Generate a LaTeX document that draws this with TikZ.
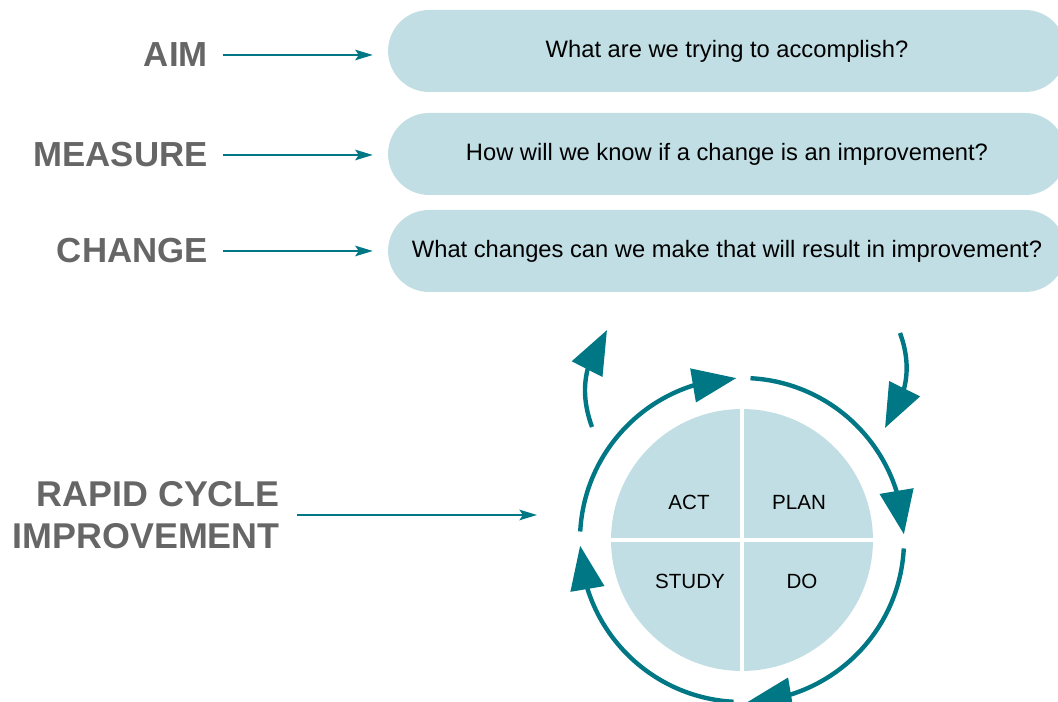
\documentclass[tikz,border=0pt]{standalone}
\usepackage{fontspec}
\setmainfont{Liberation Sans}
\usepackage{tikz}
\usetikzlibrary{arrows.meta, bending, positioning, shapes.misc, calc}
\definecolor{TealColor}{RGB}{0,119,133}
\definecolor{PaleColor}{RGB}{193,222,228}
\definecolor{LabelColor}{RGB}{102,102,102}
\tikzstyle{link} = [line width=1.1pt, TealColor, -{Stealth[length=10pt, width=6pt, inset=2pt]}]
\tikzstyle{cycarrow} = [line width=2.5pt, TealColor, -{Triangle[length=25pt, width=19pt]}]
\tikzstyle{question} = [rounded rectangle, fill=PaleColor, minimum width=13.56cm, minimum height=1.64cm, inner sep=0pt, font=\fontsize{13.5}{16}\selectfont]
\tikzstyle{heading} = [anchor=east, inner sep=0pt, text=LabelColor, font=\fontsize{19.8}{23.8}\selectfont\bfseries]
\tikzstyle{stage} = [inner sep=0pt, font=\fontsize{11.7}{14}\selectfont]

\begin{document}
\begin{tikzpicture}[x=0.02cm, y=0.02cm]
\useasboundingbox (0,0) rectangle (1058,702);

% model questions
\foreach \n/\lbl/\qtext/\yy/\ly in {aim/AIM/What are we trying to accomplish?/651/647, measure/MEASURE/How will we know if a change is an improvement?/548/547, change/CHANGE/What changes can we make that will result in improvement?/451/451} {
    \node[question] (q\n) at (727,\yy) {\qtext};
    \node[heading] (\n) at (208,\ly) {\lbl};
    \draw[link, shorten <=8.5pt, shorten >=8.5pt] (\n) -- (\n -| q\n.west);
}

% PDSA cycle
\node[heading, align=right, font=\fontsize{20.4}{23.8}\selectfont\bfseries] (rapid) at (280,187) {RAPID CYCLE\\IMPROVEMENT};
\coordinate (rapidend) at (537,187);
\draw[link, shorten <=9.6pt] (rapid) -- (rapidend);

\node[circle, fill=PaleColor, minimum size=5.24cm, inner sep=0pt] (pdsa) at (742,162) {};
\draw[white, line width=2.3pt] (pdsa.north) -- (pdsa.south) (pdsa.west) -- (pdsa.east);
\foreach \n/\t/\x/\y in {act/ACT/689/200, plan/PLAN/799/200, study/STUDY/690/121, do/DO/802/121}
    \node[stage] (\n) at (\x,\y) {\t};

\foreach \a in {0,90,180,270}
    \draw[cycarrow] ($(pdsa.center)+(\a+87:162)$) arc[start angle=\a+87, end angle=\a+2, radius=162];

\coordinate (tlfrom) at (592,275);
\coordinate (tlto) at (607,372);
\draw[cycarrow] (tlfrom) to[out=110, in=234] (tlto);
\coordinate (trfrom) at (900,369);
\coordinate (trto) at (885,274);
\draw[cycarrow] (trfrom) to[out=-70, in=55] (trto);
\end{tikzpicture}
\end{document}
